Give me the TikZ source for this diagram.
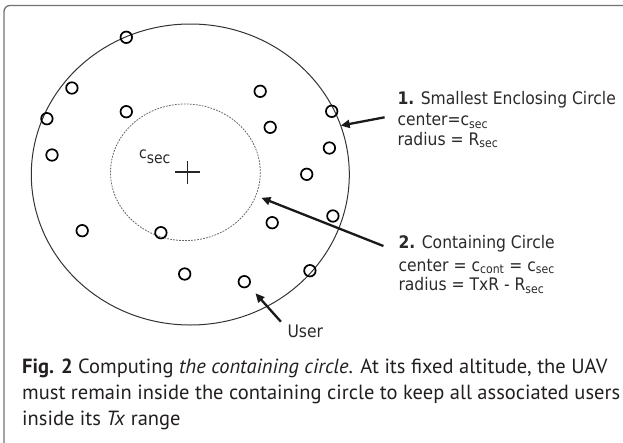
\documentclass[tikz,border=0pt]{standalone}
\usepackage{fontspec}
\setmainfont{PT Sans}
\newfontfamily\lblfont[FakeStretch=0.9]{DejaVu Sans}
\usetikzlibrary{arrows.meta}
\definecolor{ink}{HTML}{231F20}
\definecolor{lblgray}{HTML}{2A2A2A}
\begin{document}
\begin{tikzpicture}[x=1pt,y=-1pt,
  frame/.style={draw=black!55, line width=1.3pt, rounded corners=6pt},
  bigring/.style={draw=black!80, line width=1pt},
  dashring/.style={draw=black!60, line width=0.8pt, dash pattern=on 1.8pt off 1.2pt},
  user/.style={circle, draw=black, line width=1.7pt, minimum size=11.5pt, inner sep=0pt},
  pointer/.style={-{Triangle[length=9pt,width=8pt]}, line width=2.3pt, draw=black!90},
  lbl/.style={font=\lblfont\fontsize{17.3}{20}\selectfont, text=lblgray, inner sep=0pt, anchor=base west},
  captext/.style={font=\fontsize{20.5}{26}\selectfont, text=ink, inner sep=0pt, anchor=base west}]
\useasboundingbox (0,0) rectangle (623,442);
\clip (0,0) rectangle (623,442);

% panel frame, open to the right and bottom
\draw[frame] (4,470) -- (4,5.5) -- (660,5.5);

% smallest enclosing circle and containing circle
\draw[bigring] (190.3,174.5) ellipse [x radius=159, y radius=150.5];
\draw[dashring] (185.4,172.3) ellipse [x radius=74.9, y radius=68.3];

% centre mark
\coordinate (csec) at (187.4,172.2);
\draw[line width=1.8pt, black!85] ([xshift=-12.5pt]csec) -- ([xshift=12.5pt]csec)
  ([yshift=-11.5pt]csec) -- ([yshift=11.5pt]csec);
\node[font=\lblfont\fontsize{15.5}{15}\selectfont, text=lblgray, inner sep=0pt, anchor=base west]
  (csecl) at (139,158.3) {c\raisebox{-5.5pt}{sec}};

% users
\foreach \n/\px/\py in {1/126.3/37.3, 2/71.9/88, 3/46.9/118.7, 4/52.0/155,
    5/126.3/111.7, 6/260.2/91.3, 7/331.7/111.3, 8/270.2/127.3, 9/329.4/148,
    10/306.7/174.3, 11/332.9/216, 12/272.2/222.7, 13/82.2/230.7,
    14/160.9/232.7, 15/184.7/274, 16/244.3/281.7, 17/309.9/270.7}
  \node[user] (u\n) at (\px,\py) {};

% labels
\node[lbl] (l1a) at (397.3,104.8) {\textbf{1.} Smallest Enclosing Circle};
\node[lbl] (l1b) at (397.3,125.5) {center=c\textsubscript{sec}};
\node[lbl] (l1c) at (397.3,145) {radius = R\textsubscript{sec}};
\node[lbl] (l2a) at (398.3,248.3) {\textbf{2.} Containing Circle};
\node[lbl] (l2b) at (398.3,271) {center = c\textsubscript{cont} = c\textsubscript{sec}};
\node[lbl] (l2c) at (398.3,290.7) {radius = TxR - R\textsubscript{sec}};
\node[lbl] (lu) at (287.3,337.8) {User};

% pointers
\coordinate (t1) at (384.6,117.3);
\coordinate (h1) at (340.7,125.6);
\coordinate (t2) at (383.4,246);
\coordinate (h2) at (261.4,197.8);
\coordinate (t3) at (280.9,321.7);
\coordinate (h3) at (255.5,293.3);
\draw[pointer] (t1) -- (h1);
\draw[pointer] (t2) -- (h2);
\draw[pointer] (t3) -- (h3);

% caption
\node[captext] (c1) at (22,373.5) {\textbf{Fig. 2} Computing \textit{the containing circle}. At its fixed altitude, the UAV};
\node[captext] (c2) at (22,399.5) {must remain inside the containing circle to keep all associated users};
\node[captext] (c3) at (22,425.5) {inside its \textit{Tx} range};
\end{tikzpicture}
\end{document}
